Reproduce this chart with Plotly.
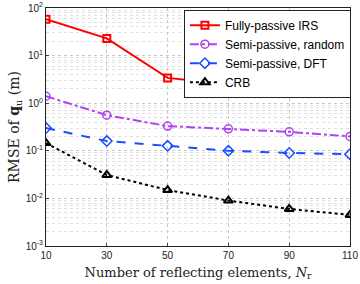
import plotly.graph_objects as go

N = [10, 30, 50, 70, 90, 110]
fully_passive = [58, 23, 3.4, 2.5, 2.0, 1.8]
semi_random = [1.4, 0.56, 0.33, 0.29, 0.25, 0.2]
semi_dft = [0.30, 0.16, 0.127, 0.10, 0.09, 0.085]
crb = [0.145, 0.031, 0.015, 0.009, 0.006, 0.0045]

ytickvals = [1e-3, 1e-2, 1e-1, 1, 10, 100]
yticktext = ["10<sup>-3</sup>", "10<sup>-2</sup>", "10<sup>-1</sup>", "10<sup>0</sup>", "10<sup>1</sup>", "10<sup>2</sup>"]

fig = go.Figure()
fig.add_trace(go.Scatter(x=N, y=fully_passive, name="Fully-passive IRS", mode="lines+markers",
                         line=dict(color="#ff0000", width=2, dash="solid"),
                         marker=dict(symbol="square-open", size=7, color="#ff0000", line=dict(width=2))))
fig.add_trace(go.Scatter(x=N, y=semi_random, name="Semi-passive, random", mode="lines+markers",
                         line=dict(color="#b040f0", width=2, dash="dashdot"),
                         marker=dict(symbol="circle-open", size=8, color="#b040f0", line=dict(width=1.5))))
fig.add_trace(go.Scatter(x=N, y=semi_dft, name="Semi-passive, DFT", mode="lines+markers",
                         line=dict(color="#1a4dff", width=2, dash="dash"),
                         marker=dict(symbol="diamond-open", size=8, color="#1a4dff", line=dict(width=1.5))))
fig.add_trace(go.Scatter(x=N, y=crb, name="CRB", mode="lines+markers",
                         line=dict(color="#000000", width=2, dash="dot"),
                         marker=dict(symbol="triangle-up-open", size=8, color="#000000", line=dict(width=2))))

fig.update_layout(
    width=360, height=284,
    margin=dict(l=46, r=10, t=8, b=38, autoexpand=False),
    plot_bgcolor="white", paper_bgcolor="white",
    font=dict(family="Liberation Sans, Arial", size=10, color="#222"),
    legend=dict(x=1.003, y=0.993, xanchor="right", yanchor="top", bgcolor="white",
                bordercolor="#222", borderwidth=1, font=dict(size=12, color="#000"),
                tracegroupgap=0, itemwidth=30),
    showlegend=True,
)
fig.update_xaxes(
    range=[10, 110], tickvals=N, showline=True, mirror=True, linecolor="#222", linewidth=1,
    showgrid=True, gridcolor="#c8c8c8", griddash="dot", gridwidth=1, zeroline=False,
    ticks="inside", ticklen=3, automargin=False,
    title=dict(text="Number of reflecting elements, <i>N</i><sub>r</sub>",
               font=dict(family="DejaVu Serif, Liberation Serif", size=13, color="#222"), standoff=7),
)
fig.update_yaxes(
    type="log", range=[-3, 2], tickvals=ytickvals, ticktext=yticktext,
    showline=True, mirror=True, linecolor="#222", linewidth=1,
    showgrid=True, gridcolor="#c8c8c8", griddash="dot", gridwidth=1, zeroline=False,
    ticks="inside", ticklen=3, automargin=False,
    minor=dict(showgrid=True, gridcolor="#e0e0e0", griddash="dot", ticks="", dtick="D1"),
    title=dict(text="RMSE of <b>q</b><sub>u</sub> (m)",
               font=dict(family="DejaVu Serif, Liberation Serif", size=14, color="#222"), standoff=2),
)
fig.write_html("out.html", config={"displayModeBar": False},
               post_script="document.body.style.margin='0';document.body.style.overflow='hidden';")
